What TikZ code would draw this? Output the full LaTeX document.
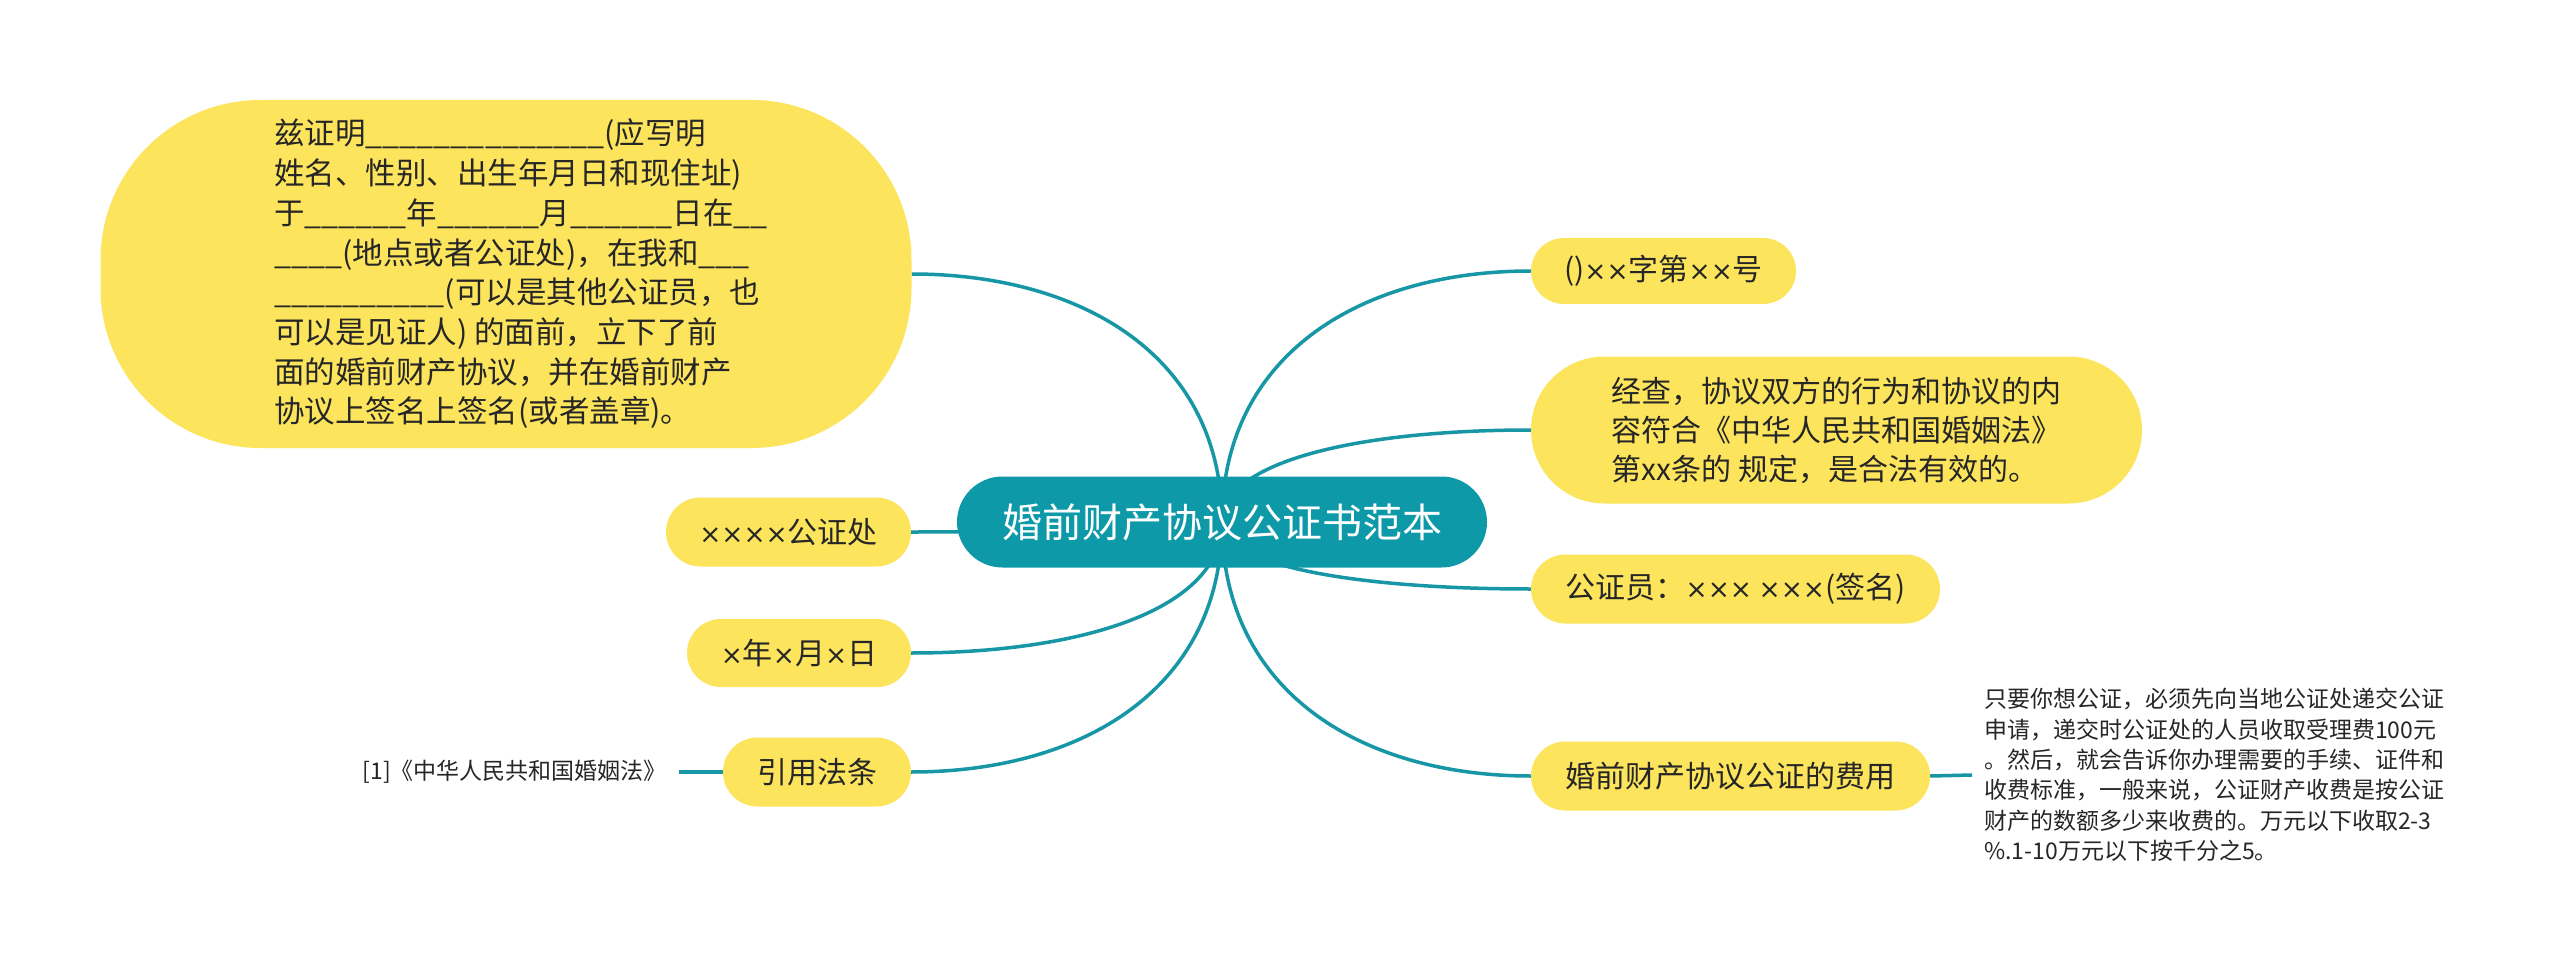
\documentclass[tikz,border=0pt]{standalone}
\usepackage{fontspec}
\setmainfont{Noto Sans CJK SC}
\newfontfamily\mulfont[Scale=0.88]{DejaVu Sans}
\newcommand\mx{{\mulfont ×}}
\usetikzlibrary{shapes.misc,calc}
\definecolor{tealc}{HTML}{0E99A9}
\definecolor{linec}{HTML}{1796A6}
\definecolor{yel}{HTML}{FCE55C}
\definecolor{ink}{HTML}{262626}
\pgfdeclarelayer{back}
\pgfdeclarelayer{bg}
\pgfsetlayers{back,bg,main}
\begin{document}
\begin{tikzpicture}[x=1pt,y=-1pt,
  conn/.style={draw=linec, line width=3.5pt},
  leaf/.style={rounded rectangle, fill=yel, inner sep=0pt, text=ink,
    font=\fontsize{30}{39}\selectfont, align=left},
  central/.style={rounded rectangle, fill=tealc, inner sep=0pt, text=white,
    font=\fontsize{40}{48}\selectfont},
  bigleaf/.style={rectangle, fill=yel, inner sep=0pt, rounded corners=160pt},
  bigtext/.style={inner sep=0pt, text=ink, font=\fontsize{30.5}{39.7}\selectfont, align=left},
  plain/.style={inner xsep=12pt, inner ysep=0pt, text=ink,
    font=\fontsize{23}{30.4}\selectfont, align=left}]
\useasboundingbox (0,0) rectangle (2560,976);
\begin{pgfonlayer}{back}
\fill[white] (0,0) rectangle (2560,976);
\end{pgfonlayer}

\node[central, minimum width=530pt, minimum height=91pt] (c) at (1222,522) {婚前财产协议公证书范本};

\node[bigleaf, minimum width=811pt, minimum height=348pt] (a) at (506,274) {};
\node[bigtext, anchor=west] (at) at (274,274) {%
兹证明\_\_\_\_\_\_\_\_\_\_\_\_\_\_(应写明\\
姓名、性别、出生年月日和现住址)\\
于\_\_\_\_\_\_年\_\_\_\_\_\_月\_\_\_\_\_\_日在\_\_\\
\_\_\_\_(地点或者公证处)，在我和\_\_\_\\
\_\_\_\_\_\_\_\_\_\_(可以是其他公证员，也\\
可以是见证人) 的面前，立下了前\\
面的婚前财产协议，并在婚前财产\\
协议上签名上签名(或者盖章)。};

\node[leaf, minimum width=245pt, minimum height=69pt] (b) at (788.5,532) {\mx\mx\mx\mx 公证处};
\node[leaf, minimum width=224pt, minimum height=68pt] (d) at (799,653) {\mx 年\mx 月\mx 日};
\node[leaf, minimum width=188pt, minimum height=69pt] (e) at (817,772) {引用法条};
\node[plain, anchor=east] (cite) at (679,772) {[1]《中华人民共和国婚姻法》};

\node[leaf, minimum width=265pt, minimum height=66pt] (r1) at (1663.5,271) {()\mx\mx 字第\mx\mx 号};
\node[leaf, minimum width=611pt, minimum height=147pt] (r2) at (1836.5,430) {%
经查，协议双方的行为和协议的内\\
容符合《中华人民共和国婚姻法》\\
第xx条的 规定，是合法有效的。};
\node[leaf, minimum width=409pt, minimum height=69pt] (r3) at (1735.5,589) {公证员：\mx\mx\mx\ \mx\mx\mx(签名)};
\node[leaf, minimum width=399pt, minimum height=69pt] (r4) at (1730.5,776) {婚前财产协议公证的费用};
\node[plain, anchor=west] (note) at (1972,775) {%
只要你想公证，必须先向当地公证处递交公证\\
申请，递交时公证处的人员收取受理费100元\\
。然后，就会告诉你办理需要的手续、证件和\\
收费标准，一般来说，公证财产收费是按公证\\
财产的数额多少来收费的。万元以下收取2-3\\
\%.1-10万元以下按千分之5。};

\begin{pgfonlayer}{bg}
\foreach \n in {r1,r2,r3,r4}{
  \draw[conn] (c.center) .. controls ($(c.center)!0.667!(c.center |- \n.west)$)
     and ($(\n.west)!0.55!(c.center |- \n.west)$) .. (\n.west);
}
\foreach \n in {a,b,d,e}{
  \draw[conn] (c.center) .. controls ($(c.center)!0.667!(c.center |- \n.east)$)
     and ($(\n.east)!0.55!(c.center |- \n.east)$) .. (\n.east);
}
\draw[conn] (e.west) -- (cite.east);
\draw[conn] (r4.east) -- (note.west);
\end{pgfonlayer}
\end{tikzpicture}
\end{document}
